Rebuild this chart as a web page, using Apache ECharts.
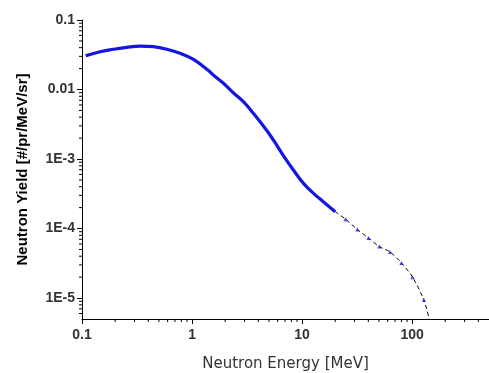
<!DOCTYPE html>
<html>
<head>
<meta charset="utf-8">
<script src="https://cdn.jsdelivr.net/npm/echarts@6/dist/echarts.min.js"></script>
<style>
  html, body { margin: 0; padding: 0; background: #fff; }
  #chart { width: 489px; height: 373px; }
</style>
</head>
<body>
<div id="chart"></div>
<script>
// measured spectrum (dense part, blue)
const denseEnergy = [0.108, 0.146, 0.193, 0.255, 0.337, 0.445, 0.589, 0.778, 1.03, 1.41, 1.56, 1.93, 2.37, 2.93, 3.61, 4.78, 5.48, 6.76, 8.34, 10.3, 12.7, 15.6, 20.0]
const denseYield = [0.0305, 0.0350, 0.0379, 0.0405, 0.0422, 0.0413, 0.0379, 0.0332, 0.0272, 0.0188, 0.0162, 0.0123, 0.00899, 0.00668, 0.00455, 0.00257, 0.00188, 0.00112, 6.95e-4, 4.47e-4, 3.21e-4, 2.43e-4, 1.75e-4]

// high energy tail (dashed)
const tailEnergy = [20.0, 24.9, 31.8, 40.1, 50.4, 63.1, 80.0, 101, 128, 143]
const tailYield = [1.75e-4, 1.36e-4, 9.7e-5, 7.3e-5, 5.5e-5, 4.6e-5, 3.2e-5, 2.0e-5, 9.4e-6, 5.0e-6]

const xTickValues = [0.1, 1, 10, 100]
const xTickLabels = ['0.1', '1', '10', '100']
const yTickValues = [1e-5, 1e-4, 1e-3, 0.01, 0.1]
const yTickLabels = ['1E-5', '1E-4', '1E-3', '0.01', '0.1']

const xMin = 0.1, xMax = 500
const yMin = 5e-6, yMax = 0.1

function lookupLabel(values, labels, v) {
  for (let i = 0; i < values.length; i++) {
    if (Math.abs(Math.log10(v) - Math.log10(values[i])) < 1e-6) return labels[i]
  }
  return ''
}

// minor log ticks (2..9 in every decade) inside the axis range
function minorTicks(lo, hi) {
  const out = []
  for (let e = Math.floor(Math.log10(lo)); e <= Math.ceil(Math.log10(hi)); e++) {
    for (let k = 2; k <= 9; k++) {
      const v = k * Math.pow(10, e)
      if (v > lo * 1.0001 && v < hi * 0.9999) out.push(v)
    }
  }
  return out
}

const chart = echarts.init(document.getElementById('chart'))

const labelFont = {
  fontFamily: 'Liberation Sans, Arial, sans-serif',
  fontSize: 14,
  fontWeight: 'bold',
  color: '#333',
}

const option = {
  animation: false,
  grid: { left: 82, top: 20, right: 0, bottom: 54, outerBoundsMode: 'none' },
  xAxis: {
    type: 'log',
    logBase: 10,
    min: xMin,
    max: xMax,
    name: 'Neutron Energy [MeV]',
    nameLocation: 'middle',
    nameGap: 38,
    nameTextStyle: {
      fontFamily: 'DejaVu Sans, sans-serif',
      fontSize: 15,
      color: '#333',
    },
    axisLine: { lineStyle: { color: '#000', width: 1 } },
    axisTick: { length: 5, lineStyle: { color: '#000' } },
    axisLabel: Object.assign({
      margin: 9,
      showMaxLabel: false,
      formatter: v => lookupLabel(xTickValues, xTickLabels, v),
    }, labelFont),
    splitLine: { show: false },
  },
  yAxis: {
    type: 'log',
    logBase: 10,
    min: yMin,
    max: yMax,
    name: 'Neutron Yield [#/pr/MeV/sr]',
    nameLocation: 'middle',
    nameGap: 52,
    nameTextStyle: {
      fontFamily: 'Liberation Sans, Arial, sans-serif',
      fontSize: 15,
      fontWeight: 'bold',
      color: '#000',
    },
    axisLine: { show: true, lineStyle: { color: '#000', width: 1 } },
    axisTick: { show: true, length: 5, lineStyle: { color: '#000' } },
    axisLabel: Object.assign({
      margin: 7,
      showMinLabel: false,
      formatter: v => lookupLabel(yTickValues, yTickLabels, v),
    }, labelFont),
    splitLine: { show: false },
  },
  series: [
    {
      type: 'line',
      data: denseEnergy.map((e, i) => [e, denseYield[i]]),
      symbol: 'none',
      smooth: 0.4,
      lineStyle: { color: '#1515e0', width: 3.2 },
      z: 3,
    },
    {
      type: 'line',
      data: tailEnergy.map((e, i) => [e, tailYield[i]]),
      symbol: 'none',
      smooth: 0.3,
      lineStyle: { color: '#000', width: 1, type: [4, 3] },
      z: 2,
    },
    {
      type: 'scatter',
      data: tailEnergy.slice(1, -1).map((e, i) => [e, tailYield[i + 1]]),
      symbol: 'triangle',
      symbolSize: 4,
      itemStyle: { color: '#1515e0' },
      z: 4,
    },
    {
      // minor ticks of the x axis
      type: 'custom',
      silent: true,
      clip: false,
      data: minorTicks(xMin, xMax).map(v => [v, yMin]),
      renderItem: (params, api) => {
        const p = api.coord([api.value(0), yMin])
        return {
          type: 'line',
          shape: { x1: p[0], y1: p[1], x2: p[0], y2: p[1] + 3 },
          style: { stroke: '#000', lineWidth: 1 },
        }
      },
    },
    {
      // minor ticks of the y axis
      type: 'custom',
      silent: true,
      clip: false,
      data: minorTicks(yMin, yMax).map(v => [xMin, v]),
      renderItem: (params, api) => {
        const p = api.coord([xMin, api.value(1)])
        return {
          type: 'line',
          shape: { x1: p[0] - 3, y1: p[1], x2: p[0], y2: p[1] },
          style: { stroke: '#000', lineWidth: 1 },
        }
      },
    },
  ],
}

chart.setOption(option)
</script>
</body>
</html>
